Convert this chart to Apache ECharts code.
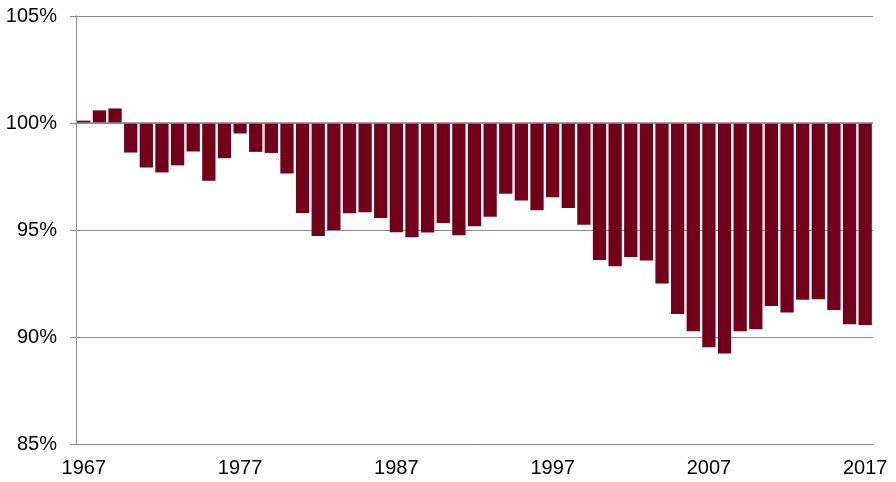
<!DOCTYPE html>
<html>
<head>
<meta charset="utf-8">
<script src="https://cdn.jsdelivr.net/npm/echarts@6/dist/echarts.min.js"></script>
<style>
  html, body { margin: 0; padding: 0; background: #fff; }
  #chart { width: 896px; height: 482px; }
</style>
</head>
<body>
<div id="chart"></div>
<script>
const years = []
for (let y = 1967; y <= 2017; y++) years.push(String(y))

// ratio in percent
const ratios = [
  100.11, 100.59, 100.68, 98.62, 97.92, 97.69, 98.02, 98.67, 97.30, 98.36,
  99.51, 98.65, 98.60, 97.64, 95.79, 94.72, 95.00, 95.78, 95.83, 95.56,
  94.90, 94.66, 94.88, 95.33, 94.76, 95.18, 95.62, 96.69, 96.38, 95.92,
  96.53, 96.03, 95.24, 93.60, 93.31, 93.74, 93.57, 92.50, 91.08, 90.27,
  89.52, 89.23, 90.27, 90.36, 91.45, 91.15, 91.74, 91.76, 91.26, 90.59,
  90.56,
]

const baseline = 100
const yTicks = [85, 90, 95, 100, 105]

const gray = '#8c8c8c'
const font = 'Liberation Sans, Arial, sans-serif'

const chart = echarts.init(document.getElementById('chart'))

chart.setOption({
  animation: false,
  grid: { left: 76, right: 23, top: 16, bottom: 38 },
  xAxis: {
    type: 'category',
    data: years,
    axisLine: { show: true, onZero: false, lineStyle: { color: gray, width: 1 } },
    axisTick: { show: false },
    axisLabel: {
      interval: 9,
      margin: 14,
      fontSize: 20,
      fontFamily: font,
      color: '#000',
    },
  },
  yAxis: {
    type: 'value',
    // bars hang from the 100% line, so the scale runs as offset from it
    min: yTicks[0] - baseline,
    max: yTicks[yTicks.length - 1] - baseline,
    interval: 5,
    axisLine: { show: true, lineStyle: { color: gray, width: 1 } },
    axisTick: { show: true, length: 6, lineStyle: { color: gray } },
    splitLine: { show: true, lineStyle: { color: gray, width: 1 } },
    axisLabel: {
      margin: 19,
      fontSize: 20,
      fontFamily: font,
      color: '#000',
      formatter: (v) => (v + baseline) + '%',
    },
  },
  series: [
    {
      type: 'bar',
      data: ratios.map((r) => +(r - baseline).toFixed(2)),
      barCategoryGap: '15%',
      itemStyle: { color: '#72001b' },
      markLine: {
        silent: true,
        symbol: 'none',
        label: { show: false },
        lineStyle: { color: gray, width: 1.5, type: 'solid' },
        data: [{ yAxis: 0 }],
      },
    },
  ],
})
</script>
</body>
</html>
